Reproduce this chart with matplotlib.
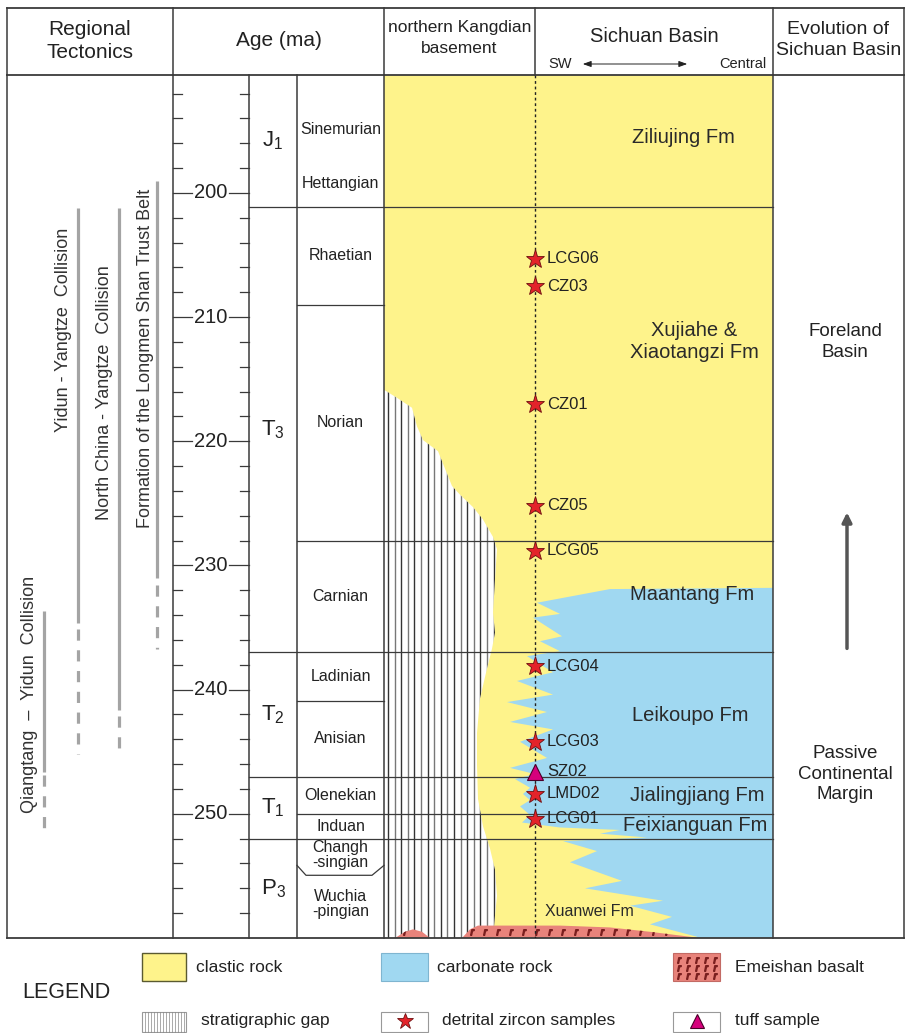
import numpy as np
import matplotlib.pyplot as plt
from matplotlib.patches import Polygon, Rectangle

plt.rcParams['font.family'] = ['Liberation Sans', 'DejaVu Sans']
plt.rcParams['mathtext.fontset'] = 'custom'
plt.rcParams['mathtext.rm'] = 'Liberation Sans'
plt.rcParams['mathtext.it'] = 'Liberation Sans:italic'

# geological time scale (Ma)
age_top, age_base = 190.5, 260.0
major_ages = [200, 210, 220, 230, 240, 250]
minor_ages = list(range(192, 260, 2))

period_names = ['J', 'T', 'T', 'T', 'P']
period_subs = ['1', '3', '2', '1', '3']
period_bounds = [190.5, 201.1, 237.0, 247.0, 252.0, 260.0]

stage_names = ['Rhaetian', 'Norian', 'Carnian', 'Ladinian', 'Anisian', 'Olenekian', 'Induan']
stage_bounds = [201.1, 209.0, 228.0, 237.0, 240.9, 247.0, 250.0, 252.0]
formation_tops = [228.0, 250.0]
jurassic_stages = ['Sinemurian', 'Hettangian']
jurassic_stage_ages = [194.9, 199.2]
permian_stages = ['Changh\n-singian', 'Wuchia\n-pingian']
permian_bounds = [252.0, 254.6, 260.0]

# samples
zircon_names = ['LCG06', 'CZ03', 'CZ01', 'CZ05', 'LCG05', 'LCG04', 'LCG03', 'LMD02', 'LCG01']
zircon_ages = [205.3, 207.5, 217.0, 225.2, 228.8, 238.1, 244.2, 248.4, 250.4]
tuff_names = ['SZ02']
tuff_ages = [246.6]

formation_names = ['Ziliujing Fm', 'Xujiahe &\nXiaotangzi Fm', 'Maantang Fm', 'Leikoupo Fm',
                   'Jialingjiang Fm', 'Feixianguan Fm']
formation_ages = [195.5, 212.0, 232.3, 242.1, 248.5, 250.9]
formation_x = [683, 694, 692, 690, 697, 695]

evolution_names = ['Foreland\nBasin', 'Passive\nContinental\nMargin']
evolution_ages = [212.0, 246.8]
evolution_arrow = [236.9, 225.5]

tecto_names = ['Qiangtang  \u2013  Yidun  Collision', 'Yidun - Yangtze  Collision',
               'North China - Yangtze  Collision', 'Formation of the Longmen Shan Trust Belt']
tecto_solid = [(233.7, 246.6), (201.2, 234.6), (201.2, 241.6), (199.0, 231.0)]
tecto_dashed = [(246.9, 251.7), (235.1, 245.2), (242.1, 245.2), (231.6, 236.7)]
tecto_label_ages = [240.4, 211.0, 216.1, 213.3]

# outline of the stratigraphic gap on the Kangdian side
gap_edge_age = [215.9, 216.5, 217.3, 218.8, 219.9, 220.8, 222.2, 223.6, 224.3, 225.3, 226.3,
                227.7, 228.7, 231.1, 233.8, 235.4, 236.7, 238.3, 240.7, 243.5, 246.1, 248.8,
                251.0, 252.8, 254.5, 256.6, 258.2, 260.0]
gap_edge_x = [385, 397, 412, 417, 423, 438, 445, 452, 460, 473, 483, 493, 497, 495, 493, 495,
              492, 487, 480, 477, 477, 478, 483, 490, 495, 497, 495, 493]

# clastic / carbonate contact (interfingering)
facies_x = [773, 610, 537, 560, 533, 562, 540, 560, 527, 553, 517, 553, 507, 547, 510, 553,
            520, 547, 510, 535, 515, 530, 523, 530, 520, 530, 522, 560, 620, 600, 647, 563,
            597, 570, 622, 585, 663, 630, 672, 650, 697, 697]
facies_age = [231.8, 231.9, 233.0, 233.9, 234.2, 235.7, 236.1, 236.9, 237.3, 238.6, 239.3,
              240.4, 241.0, 241.8, 242.6, 243.2, 244.2, 245.5, 246.3, 246.8, 247.2, 247.9,
              248.4, 248.9, 249.4, 250.1, 250.7, 251.1, 251.3, 251.6, 251.9, 252.2, 253.0,
              253.9, 255.4, 256.0, 257.0, 257.4, 258.3, 258.9, 259.9, 260.0]

# Emeishan basalt lenses at the base
basalt_x = [[395, 405, 413, 422, 430], [462, 470, 478, 560, 610, 650, 700]]
basalt_age = [[260.0, 259.5, 259.3, 259.5, 260.0], [260.0, 259.3, 259.0, 259.0, 259.15, 259.5, 260.0]]

yellow = '#fef38b'
blue = '#a0d8f1'
pink = '#e8837b'
line_c = '#3a3a3a'
tecto_c = '#a4a4a4'

W, H = 905.0, 1033.0
fig = plt.figure(figsize=(9.05, 10.33), dpi=100)


def box(x0, y0, x1, y1):
    return [x0 / W, 1 - y1 / H, (x1 - x0) / W, (y1 - y0) / H]


# column edges across the sheet
x_left, x_tect, x_age, x_per, x_stage = 7, 173, 249, 297, 384
x_mid, x_basin, x_right = 535, 773, 903.5

ax = fig.add_axes(box(0, 75, W, 938))
ax.set_xlim(0, W)
ax.set_ylim(age_base, age_top)
ax.axis('off')

# lithology
ax.add_patch(Rectangle((x_stage, age_top), x_basin - x_stage, age_base - age_top,
                       fc=yellow, ec='none', zorder=1))
ax.add_patch(Polygon(list(zip(facies_x, facies_age)) + [(x_basin, age_base)],
                     closed=True, fc=blue, ec='none', zorder=2))

gap = Polygon([(x_stage, gap_edge_age[0])] + list(zip(gap_edge_x, gap_edge_age)) + [(x_stage, age_base)],
              closed=True, fc='white', ec='none', zorder=3)
ax.add_patch(gap)
for i, gx in enumerate(np.arange(x_stage + 4, 500, 6.6)):
    ln, = ax.plot([gx, gx], [age_top, age_base], color='#333' if i % 2 == 0 else '#777',
                  lw=1.0, zorder=4)
    ln.set_clip_path(gap)

for bx, ba in zip(basalt_x, basalt_age):
    lens = Polygon(list(zip(bx, ba)), closed=True, fc=pink, ec='none', zorder=5)
    ax.add_patch(lens)
    mx = np.arange(bx[0] + 10, bx[-1] - 20, 13)
    pts = ax.plot(mx, [259.55] * len(mx), ls='none', marker='$r$', ms=4, color='#7a1f1f', zorder=6)
    pts[0].set_clip_path(lens)

# column frame
for x in [x_left, x_tect, x_age, x_per, x_stage, x_basin, x_right]:
    ax.plot([x, x], [age_top, age_base], color=line_c, lw=1.1, clip_on=False, zorder=8)
ax.plot([x_left, x_right], [age_base, age_base], color=line_c, lw=1.3, clip_on=False, zorder=8)

# time boundaries
for b in period_bounds[1:-1]:
    ax.plot([x_age, x_basin], [b, b], color=line_c, lw=0.9, zorder=7)
for b in stage_bounds:
    if b in period_bounds:
        continue
    x1 = x_basin if b in formation_tops else x_stage
    ax.plot([x_per, x1], [b, b], color=line_c, lw=0.9, zorder=7)
pb = permian_bounds[1]
ax.plot([x_per, x_per + 9, x_stage - 12, x_stage], [pb - 0.45, pb + 0.35, pb + 0.35, pb - 0.45],
        color=line_c, lw=0.9, zorder=7)

# age scale
for a in minor_ages:
    if a in major_ages:
        ax.plot([x_tect, x_tect + 19], [a, a], color=line_c, lw=0.9)
        ax.plot([x_age - 20, x_age], [a, a], color=line_c, lw=0.9)
        ax.text((x_tect + x_age) / 2, a, str(a), ha='center', va='center', fontsize=14.5, color='#222')
    else:
        ax.plot([x_tect, x_tect + 9], [a, a], color=line_c, lw=0.9)
        ax.plot([x_age - 9, x_age], [a, a], color=line_c, lw=0.9)

for name, sub, t, b in zip(period_names, period_subs, period_bounds[:-1], period_bounds[1:]):
    ax.text((x_age + x_per) / 2, (t + b) / 2, r'$\mathregular{%s_{%s}}$' % (name, sub),
            ha='center', va='center', fontsize=16, color='#222')

for name, t, b in zip(stage_names, stage_bounds[:-1], stage_bounds[1:]):
    ax.text((x_per + x_stage) / 2, (t + b) / 2, name, ha='center', va='center',
            fontsize=11.5, color='#222')
for name, a in zip(jurassic_stages, jurassic_stage_ages):
    ax.text((x_per + x_stage) / 2, a, name, ha='center', va='center', fontsize=11.5, color='#222')
for name, t, b in zip(permian_stages, permian_bounds[:-1], permian_bounds[1:]):
    ax.text((x_per + x_stage) / 2, (t + b) / 2, name, ha='center', va='center',
            fontsize=11.5, color='#222', linespacing=1.0)

# sample column
ax.plot([x_mid, x_mid], [age_top, age_base], color='#222', lw=1.0, ls=(0, (2, 2)), zorder=9)
ax.plot([x_mid] * len(zircon_ages), zircon_ages, ls='none', marker='*', ms=14,
        mfc='#e3232a', mec='#6e1010', mew=0.6, zorder=10)
ax.plot([x_mid] * len(tuff_ages), tuff_ages, ls='none', marker='^', ms=12,
        mfc='#d6007c', mec='#4a0028', mew=0.8, zorder=10)
for name, a in zip(zircon_names + tuff_names, zircon_ages + tuff_ages):
    ax.text(x_mid + 12, a, name, ha='left', va='center', fontsize=12, color='#222', zorder=10)

for name, a, fx in zip(formation_names, formation_ages, formation_x):
    ax.text(fx, a, name, ha='center', va='center', fontsize=14.5, color='#2a2a2a',
            linespacing=1.2, zorder=10)
ax.text(589, 257.9, 'Xuanwei Fm', ha='center', va='center', fontsize=11.5, color='#2a2a2a', zorder=10)

# basin evolution
for name, a in zip(evolution_names, evolution_ages):
    ax.text(845, a, name, ha='center', va='center', fontsize=13.5, color='#222', linespacing=1.3)
ax.annotate('', xy=(847, evolution_arrow[1]), xytext=(847, evolution_arrow[0]),
            arrowprops=dict(arrowstyle='-|>', color='#555', lw=2.5, mutation_scale=14))

# regional tectonics
tecto_x = [44, 78, 119, 157]
label_x = [29, 63, 104, 145]
for name, solid, dashed, la, lx, tx in zip(tecto_names, tecto_solid, tecto_dashed,
                                            tecto_label_ages, tecto_x, label_x):
    ax.plot([lx, lx], solid, color=tecto_c, lw=2.3, solid_capstyle='butt')
    ax.plot([lx, lx], dashed, color=tecto_c, lw=2.3, ls=(0, (3.5, 3)), dash_capstyle='butt')
    ax.text(tx, la, name, rotation=90, ha='center', va='center', fontsize=13, color='#333')

# header row
hax = fig.add_axes(box(0, 0, W, 75))
hax.set_xlim(0, W)
hax.set_ylim(75, 0)
hax.axis('off')
for y in [8, 75]:
    hax.plot([x_left, x_right], [y, y], color=line_c, lw=1.3, clip_on=False)
for x in [x_left, x_tect, x_stage, x_mid, x_basin, x_right]:
    hax.plot([x, x], [8, 75], color=line_c, lw=1.1, clip_on=False)
hax.text((x_left + x_tect) / 2, 41, 'Regional\nTectonics', ha='center', va='center',
         fontsize=15, color='#222', linespacing=1.25)
hax.text((x_tect + x_stage) / 2, 41, 'Age (ma)', ha='center', va='center', fontsize=15, color='#222')
hax.text((x_stage + x_mid) / 2, 38, 'northern Kangdian\nbasement', ha='center', va='center',
         fontsize=12.5, color='#222', linespacing=1.55)
hax.text((x_mid + x_basin) / 2, 36, 'Sichuan Basin', ha='center', va='center', fontsize=14.5, color='#222')
hax.text(548, 64, 'SW', ha='left', va='center', fontsize=10.5, color='#222')
hax.text(766, 64, 'Central', ha='right', va='center', fontsize=10.5, color='#222')
hax.annotate('', xy=(690, 64), xytext=(580, 64),
             arrowprops=dict(arrowstyle='<|-|>,head_length=0.5,head_width=0.18', color='#222', lw=0.7))
hax.text((x_basin + x_right) / 2, 40, 'Evolution of\nSichuan Basin', ha='center', va='center',
         fontsize=14, color='#222', linespacing=1.35)

# legend
lax = fig.add_axes(box(0, 938, W, H))
lax.set_xlim(0, W)
lax.set_ylim(H, 938)
lax.axis('off')
lax.text(22, 992, 'LEGEND', ha='left', va='center', fontsize=15.5, color='#222')

lax.add_patch(Rectangle((142, 953), 44, 28, fc=yellow, ec='#5a5a30', lw=1))
lax.text(196, 968, 'clastic rock', ha='left', va='center', fontsize=12.5, color='#222')
lax.add_patch(Rectangle((381, 953), 47, 28, fc=blue, ec='#7fb5d0', lw=0.8))
lax.text(437, 968, 'carbonate rock', ha='left', va='center', fontsize=12.5, color='#222')
lax.add_patch(Rectangle((673, 953), 47, 28, fc=pink, ec='#c36a64', lw=0.8))
for yy in [960, 968, 976]:
    lax.plot(np.arange(679, 718, 9), [yy] * 5, ls='none', marker='$r$', ms=4, color='#7a1f1f')
lax.text(735, 968, 'Emeishan basalt', ha='left', va='center', fontsize=12.5, color='#222')

lax.add_patch(Rectangle((142, 1012), 44, 20, fc='white', ec='#999', lw=0.8))
for gx in np.arange(145, 186, 3):
    lax.plot([gx, gx], [1012, 1032], color='#888', lw=0.5)
lax.text(201, 1021, 'stratigraphic gap', ha='left', va='center', fontsize=12.5, color='#222')
lax.add_patch(Rectangle((381, 1012), 47, 20, fc='white', ec='#999', lw=0.8))
lax.plot([404.5], [1021], marker='*', ms=12, mfc='#e3232a', mec='#6e1010', mew=0.6)
lax.text(442, 1021, 'detrital zircon samples', ha='left', va='center', fontsize=12.5, color='#222')
lax.add_patch(Rectangle((673, 1012), 47, 20, fc='white', ec='#999', lw=0.8))
lax.plot([696.5], [1021], marker='^', ms=10, mfc='#d6007c', mec='#4a0028', mew=0.8)
lax.text(735, 1021, 'tuff sample', ha='left', va='center', fontsize=12.5, color='#222')

fig.savefig('out.png', dpi=100)
